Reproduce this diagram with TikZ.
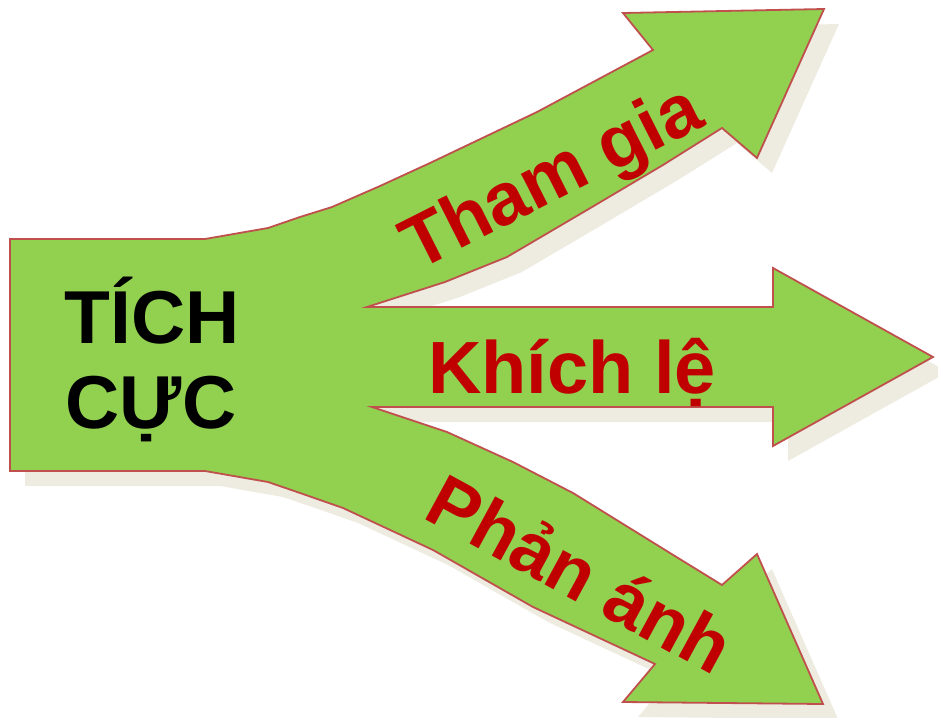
\documentclass[tikz,border=0pt]{standalone}
\usepackage{fontspec}
\setmainfont{Liberation Sans}
\definecolor{arrowgreen}{HTML}{92D050}
\definecolor{arrowborder}{HTML}{C0504D}
\definecolor{shadowtan}{HTML}{EEECE1}
\definecolor{labelred}{HTML}{C00000}
\begin{document}
\begin{tikzpicture}[x=1pt,y=-1pt,
  branchlabel/.style={text=labelred,font=\fontsize{74}{80}\selectfont\bfseries,inner sep=0pt,anchor=base},
  rootlabel/.style={text=black,font=\fontsize{75}{82}\selectfont\bfseries,inner sep=0pt,anchor=base}]
\useasboundingbox (0,0) rectangle (938,718);
\def\shapepath{(10,239) -- (205,239) -- (268,228) -- (300,217) -- (332,207) -- (380,186) -- (430,163) -- (537,112) -- (653,50) -- (623,13) -- (824,9) -- (757,158) -- (722,128) -- (663,165) -- (587,210) -- (507,257) -- (445,282) -- (367,307) -- (773,307) -- (773,268) -- (933,357) -- (773,446) -- (773,407) -- (372,407) -- (447,432) -- (513,462) -- (573,493) -- (670,553) -- (722,585) -- (757,554) -- (823,704) -- (623,702) -- (655,664) -- (533,607) -- (433,550) -- (343,508) -- (300,493) -- (268,482) -- (205,471) -- (10,471) -- cycle}
% shadow
\begin{scope}[shift={(15,15)}]
\fill[shadowtan] \shapepath;
\end{scope}
% main shape
\filldraw[fill=arrowgreen,draw=arrowborder,line width=1.8pt,line join=miter] \shapepath;
% labels
\node[rootlabel] (tich) at (152,343) {TÍCH};
\node[rootlabel] (cuc) at (151,428) {CỰC};
\node[branchlabel,rotate=26.8] (thamgia) at (562,198) {Tham gia};
\node[branchlabel] (khichle) at (572,393) {Khích lệ};
\node[branchlabel,rotate=-28.5] (phananh) at (568,597) {Phản ánh};
\end{tikzpicture}
\end{document}
